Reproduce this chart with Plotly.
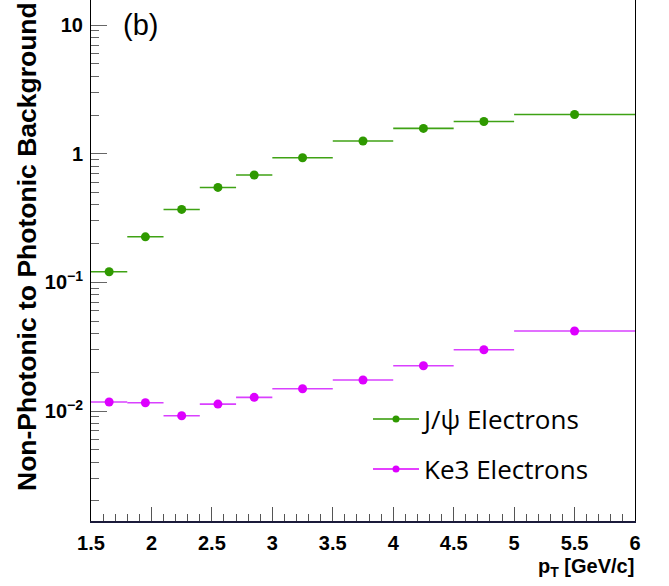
import plotly.graph_objects as go

# ---- data ----
pt_center = [1.65, 1.95, 2.25, 2.55, 2.85, 3.25, 3.75, 4.25, 4.75, 5.5]
pt_halfwidth = [0.15, 0.15, 0.15, 0.15, 0.15, 0.25, 0.25, 0.25, 0.25, 0.5]
jpsi_ratio = [0.121, 0.226, 0.369, 0.547, 0.683, 0.931, 1.256, 1.573, 1.78, 2.02]
ke3_ratio = [0.01175, 0.0116, 0.00919, 0.01132, 0.01277, 0.0149, 0.01742, 0.0225, 0.02993, 0.0419]

y_tickvals = [0.01, 0.1, 1, 10]
y_ticktext = ["10<sup>\u22122</sup>", "10<sup>\u22121</sup>", "1", "10"]

GREEN = "#2f9900"
GREEN_BAR = "#3fa214"
MAG = "#dd00ff"
MAG_BAR = "#d940ff"

W, H = 669, 586
L, R, T, B = 91, 34, 0, 65
PW, PH = W - L - R, H - T - B

def px_x(px):
    return (px - L) / PW

def px_y(py):
    return 1 - (py - T) / PH

fig = go.Figure()

fig.add_trace(go.Scatter(
    x=pt_center, y=jpsi_ratio, mode="markers",
    marker=dict(color=GREEN, size=9),
    error_x=dict(type="data", array=pt_halfwidth, symmetric=True, width=0,
                 color=GREEN_BAR, thickness=1.6),
    showlegend=False))
fig.add_trace(go.Scatter(
    x=pt_center, y=ke3_ratio, mode="markers",
    marker=dict(color=MAG, size=9),
    error_x=dict(type="data", array=pt_halfwidth, symmetric=True, width=0,
                 color=MAG_BAR, thickness=1.6),
    showlegend=False))

# legend-only entries (line + dot symbol like the reference)
fig.add_trace(go.Scatter(
    x=[None], y=[None], mode="lines+markers", name="J/\u03c8 Electrons",
    line=dict(color=GREEN, width=1.5), marker=dict(color=GREEN, size=7),
    legend="legend"))
fig.add_trace(go.Scatter(
    x=[None], y=[None], mode="lines+markers", name="Ke3 Electrons",
    line=dict(color=MAG, width=1.5), marker=dict(color=MAG, size=7),
    legend="legend2"))

minor_y = [m * 10 ** e for e in range(-3, 2) for m in range(2, 10)]

LEG_FONT = dict(family="Open Sans, Noto Sans, sans-serif", size=26, color="black")

fig.update_layout(
    width=W, height=H,
    margin=dict(l=L, r=R, t=T, b=B),
    paper_bgcolor="white", plot_bgcolor="white",
    font=dict(family="Liberation Sans, Arial, sans-serif", color="black"),
    xaxis=dict(
        range=[1.5, 6], dtick=0.5, tick0=1.5,
        showgrid=False, zeroline=False,
        showline=True, linecolor="#1a1a3a", linewidth=2,
        ticks="inside", ticklen=14, tickwidth=1, tickcolor="#555",
        minor=dict(dtick=0.1, ticks="inside", ticklen=7, tickwidth=1, tickcolor="#555", showgrid=False),
        tickfont=dict(size=20, weight="bold", family="Liberation Sans, Arial, sans-serif"),
        ticklabelstandoff=3,
    ),
    yaxis=dict(
        type="log", range=[-2.855, 1.195],
        showgrid=False, zeroline=False,
        showline=True, linecolor="black", linewidth=1, mirror=True,
        tickmode="array", tickvals=y_tickvals, ticktext=y_ticktext,
        ticks="inside", ticklen=16, tickwidth=1.2, tickcolor="#666",
        minor=dict(tickmode="array", tickvals=minor_y, ticks="inside", ticklen=8,
                   tickwidth=1, tickcolor="#666", showgrid=False),
        tickfont=dict(size=20, weight="bold", family="Liberation Sans, Arial, sans-serif"),
        ticklabelstandoff=3,
    ),
    legend=dict(x=px_x(368), y=px_y(419), xanchor="left", yanchor="middle",
                bgcolor="rgba(0,0,0,0)", borderwidth=0, itemwidth=46, font=LEG_FONT),
    legend2=dict(x=px_x(368), y=px_y(469), xanchor="left", yanchor="middle",
                 bgcolor="rgba(0,0,0,0)", borderwidth=0, itemwidth=46, font=LEG_FONT),
    annotations=[
        dict(text="<b>Non-Photonic to Photonic Background</b>", textangle=-90,
             xref="paper", yref="paper", x=px_x(27), y=px_y(247),
             xanchor="center", yanchor="middle", showarrow=False,
             font=dict(size=26.5, family="Liberation Sans, Arial, sans-serif")),
        dict(text="<b>p<sub>T</sub> [GeV/c]</b>",
             xref="paper", yref="paper", x=px_x(636), y=px_y(567),
             xanchor="right", yanchor="middle", showarrow=False,
             font=dict(size=20, family="Liberation Sans, Arial, sans-serif")),
        dict(text="(b)",
             xref="paper", yref="paper", x=px_x(121), y=px_y(25),
             xanchor="left", yanchor="middle", showarrow=False,
             font=dict(size=29, family="Liberation Sans, Arial, sans-serif")),
    ],
)

fig.write_html("out.html", config={"displayModeBar": False},
               post_script="document.body.style.margin='0px';")
